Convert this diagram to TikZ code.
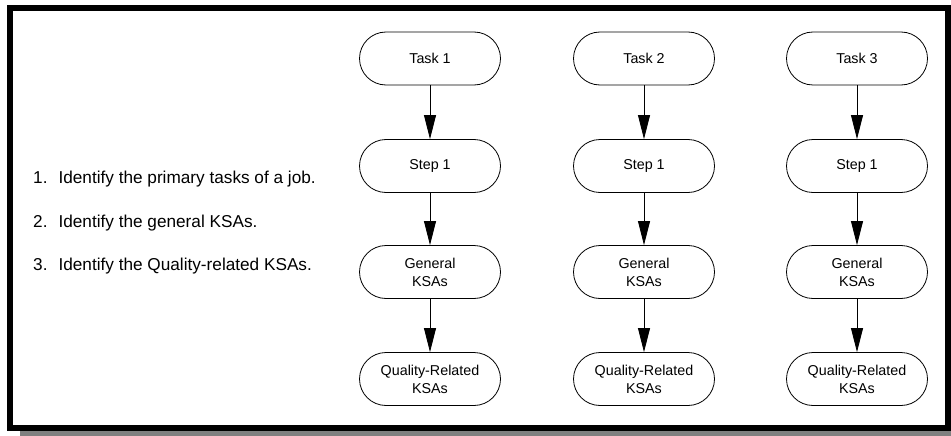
\documentclass[tikz,border=0pt]{standalone}
\usepackage{fontspec}
\setmainfont{Liberation Sans}
\usepackage{xcolor}
\usetikzlibrary{arrows.meta,positioning}

\begin{document}
\begin{tikzpicture}[x=1pt, y=-1pt, >={Triangle[length=24pt,width=12pt]},
every node/.style={font=\fontsize{14.3}{18}\selectfont},
stage/.style={draw,rectangle,rounded corners=26.5pt,align=center,minimum width=141pt,minimum height=53pt,inner sep=0pt,line width=0.8pt},
flow/.style={->,line width=0.8pt},
item/.style={anchor=base west,inner sep=0pt,font=\fontsize{17.2}{19}\selectfont}]
\useasboundingbox (0,0) rectangle (951,436);
\fill[black!50] (20,431) rectangle (951,436);
\draw[line width=6pt] (10,8) rectangle (948,428);
% steps on the left
\node[item] (itemA) at (33,183) {1.\hspace{11pt}Identify the primary tasks of a job.};
\node[item] (itemB) at (33,227) {2.\hspace{11pt}Identify the general KSAs.};
\node[item] (itemC) at (33,270) {3.\hspace{11pt}Identify the Quality-related KSAs.};
% first task
\node[stage] (taskA) at (430,58.5) {Task 1};
\node[stage] (stepA) at (430,166) {Step 1};
\node[stage] (genA) at (430,272) {General\\KSAs};
\node[stage] (qualA) at (430,379) {Quality-Related\\KSAs};
\draw[flow] (taskA) -- (stepA);
\draw[flow] (stepA) -- (genA);
\draw[flow] (genA) -- (qualA);
% second task
\node[stage] (taskB) at (644,58.5) {Task 2};
\node[stage] (stepB) at (644,166) {Step 1};
\node[stage] (genB) at (644,272) {General\\KSAs};
\node[stage] (qualB) at (644,379) {Quality-Related\\KSAs};
\draw[flow] (taskB) -- (stepB);
\draw[flow] (stepB) -- (genB);
\draw[flow] (genB) -- (qualB);
% third task
\node[stage] (taskC) at (857,58.5) {Task 3};
\node[stage] (stepC) at (857,166) {Step 1};
\node[stage] (genC) at (857,272) {General\\KSAs};
\node[stage] (qualC) at (857,379) {Quality-Related\\KSAs};
\draw[flow] (taskC) -- (stepC);
\draw[flow] (stepC) -- (genC);
\draw[flow] (genC) -- (qualC);
\end{tikzpicture}
\end{document}
